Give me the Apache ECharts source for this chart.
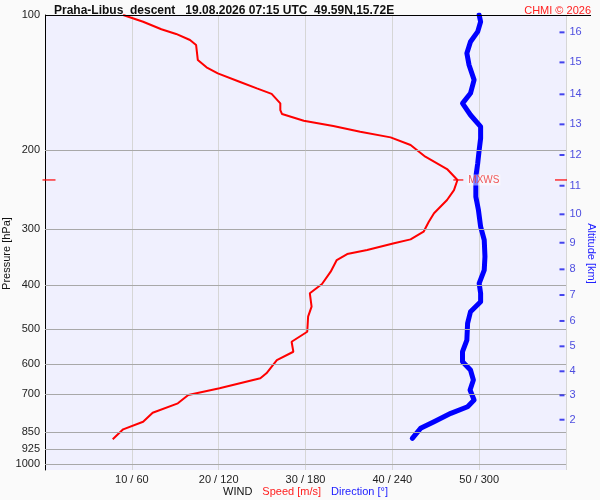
<!DOCTYPE html>
<html><head><meta charset="utf-8">
<script src="https://cdn.jsdelivr.net/npm/echarts@6/dist/echarts.min.js"></script>
<style>html,body{margin:0;padding:0;background:#fafafa}#c{width:600px;height:500px}</style>
</head><body><div id="c"></div><script>
// Wind speed profile (m/s) vs pressure (hPa)
const speedPressure = [100.0,103.5,107.6,110.2,113.7,116.6,126.0,130.8,134.9,140.8,145.7,149.9,157.3,162.8,166.2,172.0,176.7,181.9,187.3,194.8,206.8,220.3,233.1,245.4,258.2,276.4,288.6,303.8,316.0,322.5,333.8,340.7,351.3,373.0,397.2,416.6,446.3,469.8,507.5,534.3,562.3,586.8,628.1,644.4,678.4,702.1,732.6,768.7,805.1,837.0,881.0];
const speedValues   = [9.0,11.3,13.4,15.1,16.7,17.4,17.6,18.6,19.9,22.4,24.4,26.1,27.1,27.1,27.3,29.8,33.2,36.3,39.8,42.1,43.8,46.3,47.5,47.1,46.3,44.8,44.2,43.6,42.1,40.2,37.1,34.8,33.6,32.9,31.9,30.5,30.7,30.3,30.2,28.4,28.6,26.7,25.5,24.8,20.1,16.5,15.3,12.4,11.3,9.0,7.8];
// Wind direction profile (deg) vs pressure (hPa)
const dirPressure = [100.0,103.5,108.9,114.7,121.7,129.2,139.5,149.4,157.3,158.7,167.0,177.3,188.3,199.8,213.9,229.2,253.9,271.9,296.1,317.0,345.4,369.8,395.9,416.6,435.0,458.0,486.1,529.6,562.3,591.9,617.5,650.0,684.3,720.3,745.4,771.2,805.1,832.7,876.5];
const dirValues   = [300,301,299,294,291.5,293,296.5,294,288.5,289,294,301,301,300,299,297.7,297.7,299.5,301,303.5,304,303.5,300,301,301,294,292,291.5,288.5,288.5,294,296,293.7,296.5,292,280.4,268.8,259.5,253.8];
// Axis ticks
const pressureTicks = [100,200,300,400,500,600,700,850,925,1000];
const speedTicks = [10,20,30,40,50];
const altitudeKm = [2,3,4,5,6,7,8,9,10,11,12,13,14,15,16];
const altitudePressure = [796.8,703.1,621.6,546.9,480.2,420.4,368.5,321.5,277.9,240.0,205.0,175.2,150.2,127.5,109.3];
// Max wind
const mxwsSpeed = 47.6;
const mxwsPressure = 233;

const FONT = '"Liberation Sans", Arial, sans-serif';
const chart = echarts.init(document.getElementById('c'), null, {renderer:'canvas'});
const yLog = {type:'log', logBase:10, min:100, max:1031.2, inverse:true,
  axisTick:{show:false}, axisLabel:{show:false}, splitLine:{show:false}};

chart.setOption({
  backgroundColor:'#fafafa',
  animation:false,
  textStyle:{fontFamily:FONT},
  title:[
    {text:'Praha-Libus  descent   19.08.2026 07:15 UTC  49.59N,15.72E', left:49, top:0,
     textStyle:{fontSize:12, fontWeight:'bold', color:'#111', fontFamily:FONT}},
    {text:'CHMI © 2026', right:4, top:0, textStyle:{fontSize:11, fontWeight:'normal', color:'#ff2020', fontFamily:FONT}}
  ],
  grid:{left:45, right:34, top:15, bottom:30, show:true, backgroundColor:'#f0f0fe', borderWidth:0,
        containLabel:false, outerBoundsMode:'none'},
  graphic:[{type:'line', shape:{x1:45, y1:15.5, x2:591, y2:15.5}, style:{stroke:'#000', lineWidth:1}, z:50}],
  xAxis:[
    {type:'value', min:0, max:60, interval:10, position:'bottom',
     axisLine:{show:false}, axisTick:{show:false},
     splitLine:{show:true, showMinLine:false, showMaxLine:true, lineStyle:{color:'#d6d6d6', width:1}},
     axisLabel:{margin:4, fontSize:11, color:'#222', fontFamily:FONT,
       formatter:v => speedTicks.includes(v) ? (v + ' / ' + v*6) : ''},
     name:'{a|WIND}   {b|Speed [m/s]}   {c|Direction [°]}', nameLocation:'middle', nameGap:16, nameMoveOverlap:false,
     nameTextStyle:{fontFamily:FONT, rich:{a:{color:'#111', fontSize:11, fontFamily:FONT}, b:{color:'#ff2020', fontSize:11, fontFamily:FONT}, c:{color:'#2020ff', fontSize:11, fontFamily:FONT}}}},
    {type:'value', min:0, max:360, show:false}
  ],
  yAxis:[
    Object.assign({}, yLog, {position:'left', axisLine:{show:true, lineStyle:{color:'#000', width:1}},
      name:'Pressure [hPa]', nameLocation:'middle', nameGap:33, nameRotate:90,
      nameTextStyle:{fontSize:11, color:'#111', fontFamily:FONT, padding:[0,0,0,-22]}}),
    Object.assign({}, yLog, {position:'right', axisLine:{show:false},
      name:'Altitude [km]', nameLocation:'middle', nameGap:20, nameRotate:-90,
      nameTextStyle:{fontSize:11, color:'#2020ff', fontFamily:FONT, padding:[0,-22,0,0]}})
  ],
  series:[
    {type:'line', data:[[0,100]], symbol:'none', lineStyle:{opacity:0}, silent:true, z:1,
     markLine:{silent:true, symbol:'none', animation:false,
       lineStyle:{type:'solid', color:'#a8a8a8', width:1},
       label:{position:'start', distance:5, fontSize:11, color:'#222', fontFamily:FONT, formatter:p => String(p.value)},
       data:pressureTicks.map(p => ({yAxis:p, lineStyle: p===100 ? {color:'rgba(0,0,0,0)'} : undefined}))}},
    {type:'line', xAxisIndex:1, yAxisIndex:0, data:dirValues.map((d,i)=>[d, dirPressure[i]]),
     symbol:'none', lineStyle:{color:'#0000ff', width:5, cap:'round', join:'round'}, z:3},
    {type:'line', xAxisIndex:0, yAxisIndex:0, data:speedValues.map((s,i)=>[s, speedPressure[i]]),
     symbol:'none', lineStyle:{color:'#ff0000', width:2}, z:4},
    {type:'scatter', xAxisIndex:0, yAxisIndex:0, z:5, silent:true,
     data:altitudeKm.map((k,i)=>({value:[60, altitudePressure[i], k]})),
     symbol:'rect', symbolSize:[5,2], symbolOffset:[-4,0], itemStyle:{color:'#1818e8'},
     label:{show:true, position:'right', distance:5, fontSize:11, color:'#2020d8', fontFamily:FONT, formatter:p => String(p.value[2])}},
    {type:'scatter', xAxisIndex:0, yAxisIndex:0, z:6, silent:true, clip:false,
     symbol:'rect', itemStyle:{color:'#ff0000'},
     data:[
       {value:[mxwsSpeed, mxwsPressure], symbolSize:[10,1.5],
        label:{show:true, position:'right', distance:4, formatter:'MXWS', fontSize:10, color:'#ee3030', fontFamily:FONT,
               backgroundColor:'rgba(255,255,255,0.6)', padding:[1,1,0,1]}},
       {value:[0, mxwsPressure], symbolSize:[13,1.5], symbolOffset:[4,0]},
       {value:[60, mxwsPressure], symbolSize:[12,1.5], symbolOffset:[-5,0]}
     ]}
  ]
});
</script></body></html>
